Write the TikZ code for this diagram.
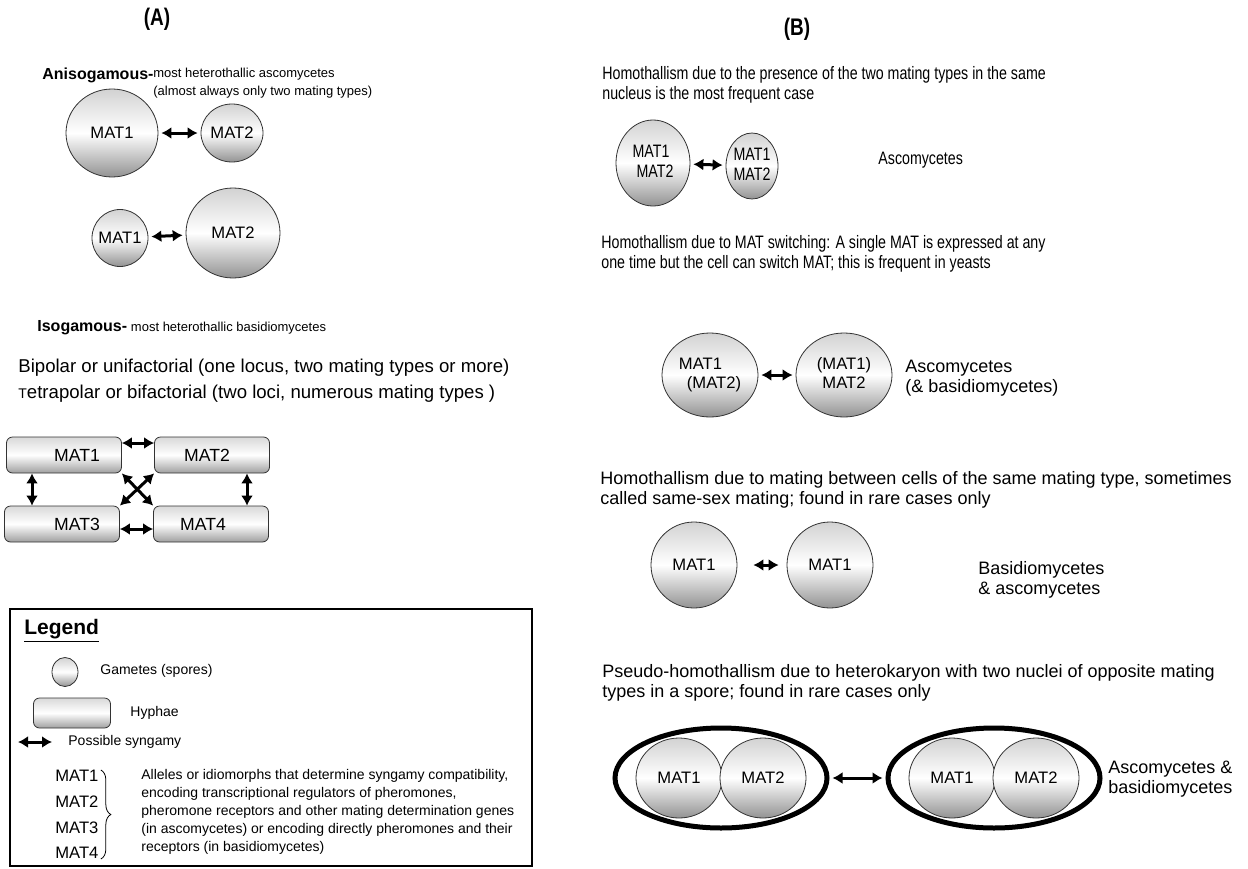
\documentclass[tikz,border=0pt]{standalone}
\usepackage{fontspec}
\usepackage{tikz}
\usetikzlibrary{arrows.meta,shapes.geometric,decorations.pathreplacing}
\setmainfont{Liberation Sans}
\newfontfamily\narrowfont{Liberation Sans}[FakeStretch=0.79]
\newcommand{\bodyfont}{\fontsize{9}{10}\selectfont}
\newcommand{\narrowtext}{\narrowfont\fontsize{9}{10}\selectfont}
\newcommand{\matfont}{\fontsize{8.3}{9.5}\selectfont}
\newcommand{\legfont}{\fontsize{7}{9}\selectfont}
\newcommand{\celltext}[2][c]{\makebox[0pt]{\begin{tabular}{@{}#1@{}}#2\end{tabular}}}
\tikzset{
  gam/.style={ellipse, draw=black!80, thin, inner sep=0pt, top color=gray!35, bottom color=gray!85, middle color=white, font=\matfont},
  hyph/.style={rectangle, rounded corners=3pt, draw=black!80, thin, inner sep=0pt, top color=gray!30, bottom color=gray!75, middle color=white, font=\fontsize{8.8}{10}\selectfont},
  spore/.style={ellipse, draw, line width=2.5pt, fill=white, inner sep=0pt},
  syn/.style={{Latex[length=5pt,width=6pt]}-{Latex[length=5pt,width=6pt]}, line width=1.5pt, shorten <=1.5pt, shorten >=1.5pt},
  txt/.style={anchor=north west, align=left, inner sep=0pt},
  headtxt/.style={anchor=base west, inner sep=0pt, font=\bfseries\fontsize{8}{10}\selectfont}
}

\begin{document}
\begin{tikzpicture}[x=0.5pt,y=-0.5pt]
  \useasboundingbox (0,0) rectangle (1248,868);
  \node[font=\narrowfont\fontsize{12}{14}\selectfont\bfseries] (lblA) at (157,19) {(A)};
  \node[font=\narrowfont\fontsize{12}{14}\selectfont\bfseries] (lblB) at (797,29) {(B)};

  \node[headtxt] (aniso) at (42,79) {Anisogamous-};
  \node[txt, font=\fontsize{6.5}{9}\selectfont] (anisot) at (153,68) {most heterothallic ascomycetes\\(almost always only two mating types)};
  \node[gam, minimum width=46pt, minimum height=44pt] (a1) at (112,133) {MAT1};
  \node[gam, minimum width=31pt, minimum height=29pt] (a2) at (232,133) {\makebox[0pt]{MAT2}};
  \node[gam, minimum width=28pt, minimum height=28.5pt] (a3) at (120,238) {\makebox[0pt]{MAT1}};
  \node[gam, minimum width=47pt, minimum height=45pt] (a4) at (233,233) {MAT2};
  \draw[syn] (a1) -- (a2);
  \draw[syn] (a3) -- (a4);

  \node[headtxt] (iso) at (37,331) {Isogamous-};
  \node[anchor=base west, inner sep=0pt, xshift=1.5pt, font=\fontsize{6.5}{9}\selectfont] (isot) at (iso.base east) {most heterothallic basidiomycetes};
  \node[txt, font=\fontsize{9.3}{13}\selectfont] (poles) at (18,359) {Bipolar or unifactorial (one locus, two mating types or more)\\{\fontsize{7}{13}\selectfont T}etrapolar or bifactorial (two loci, numerous mating types )};

  \node[hyph, minimum width=57.5pt, minimum height=18pt] (h1) at (64,455) {\hspace*{13pt}MAT1};
  \node[hyph, minimum width=57.5pt, minimum height=18pt] (h2) at (212,455) {MAT2\hspace*{5pt}};
  \node[hyph, minimum width=57.5pt, minimum height=18pt] (h3) at (62,524) {\hspace*{15pt}MAT3};
  \node[hyph, minimum width=57.5pt, minimum height=18pt] (h4) at (211,524) {MAT4\hspace*{8pt}};
  \draw[syn, shorten <=0pt, shorten >=0pt] ([yshift=6pt]h1.east) -- ([yshift=6pt]h2.west);
  \draw[syn, shorten <=0pt, shorten >=0pt] ([yshift=-2.5pt]h3.east) -- ([yshift=-2.5pt]h4.west);
  \draw[syn, shorten <=0pt, shorten >=0pt] ([xshift=-16pt]h1.south) -- ([xshift=-15pt]h3.north);
  \draw[syn, shorten <=0pt, shorten >=0pt] ([xshift=17.5pt]h2.south) -- ([xshift=18pt]h4.north);
  \draw[syn, shorten <=0pt, shorten >=0pt] (h1.south east) -- (h4.north west);
  \draw[syn, shorten <=0pt, shorten >=0pt] (h2.south west) -- (h3.north east);

  \node[draw, line width=0.8pt, minimum width=261pt, minimum height=128.5pt, inner sep=0pt] (legbox) at (271,737.5) {};
  \node[anchor=west, inner sep=0pt, font=\bfseries\fontsize{10.5}{12}\selectfont] (legtitle) at (24,631) {\underline{Legend}};
  \node[gam, minimum width=13pt, minimum height=14.5pt] (leggam) at (65,672) {};
  \node[anchor=west, inner sep=0pt, font=\legfont] (leggamt) at (100,671) {Gametes (spores)};
  \node[hyph, minimum width=38.5pt, minimum height=15pt] (leghyph) at (72,713) {};
  \node[anchor=west, inner sep=0pt, font=\legfont] (leghypht) at (130,713) {Hyphae};
  \coordinate (legs1) at (18,742);
  \coordinate (legs2) at (52,742);
  \draw[syn, shorten <=0pt, shorten >=0pt] (legs1) -- (legs2);
  \node[anchor=west, inner sep=0pt, font=\legfont] (legsynt) at (68,742) {Possible syngamy};
  \node[txt, font=\fontsize{8.3}{12.8}\selectfont] (legmat) at (55,770) {MAT1\\MAT2\\MAT3\\MAT4};
  \draw[decorate, decoration={brace, amplitude=5pt}] ([xshift=1pt]legmat.north east) -- ([xshift=1pt]legmat.south east);
  \node[txt, font=\legfont] (legdesc) at (141,769) {Alleles or idiomorphs that determine syngamy compatibility,\\encoding transcriptional regulators of pheromones,\\pheromone receptors and other mating determination genes\\(in ascomycetes) or encoding directly pheromones and their\\receptors (in basidiomycetes)};

  \node[txt, font=\narrowtext] (hom1) at (602,66) {Homothallism due to the presence of the two mating types in the same\\nucleus is the most frequent case};
  \node[gam, minimum width=37pt, minimum height=43pt, font=\narrowtext] (b1a) at (653,163) {\celltext[l]{MAT1\\\hspace{2pt}MAT2}};
  \node[gam, minimum width=26pt, minimum height=33pt, font=\narrowtext] (b1b) at (752,166) {\celltext{MAT1\\MAT2}};
  \draw[syn] (b1a) -- (b1b);
  \node[anchor=west, inner sep=0pt, font=\narrowtext] (b1t) at (878,160) {Ascomycetes};

  \node[txt, font=\narrowtext] (hom2) at (601,235) {Homothallism due to MAT switching: A single MAT is expressed at any\\one time but the cell can switch MAT; this is frequent in yeasts};
  \node[gam, minimum width=48pt, minimum height=42pt] (b2a) at (710,375) {\celltext[l]{MAT1\\\hspace{4pt}(MAT2)}};
  \node[gam, minimum width=48pt, minimum height=42pt] (b2b) at (844,375) {\celltext{(MAT1)\\MAT2}};
  \draw[syn] (b2a) -- (b2b);
  \node[txt, font=\bodyfont] (b2t) at (905,360) {Ascomycetes\\(\& basidiomycetes)};

  \node[txt, font=\bodyfont] (hom3) at (600,471) {Homothallism due to mating between cells of the same mating type, sometimes\\called same-sex mating; found in rare cases only};
  \node[gam, minimum width=43pt, minimum height=43pt] (b3a) at (694,565) {MAT1};
  \node[gam, minimum width=43pt, minimum height=43pt] (b3b) at (830,565) {MAT1};
  \draw[syn, shorten <=8pt, shorten >=4pt] (b3a) -- (b3b);
  \node[txt, font=\bodyfont] (b3t) at (978,561) {Basidiomycetes\\\& ascomycetes};

  \node[txt, font=\bodyfont] (hom4) at (602,664) {Pseudo-homothallism due to heterokaryon with two nuclei of opposite mating\\types in a spore; found in rare cases only};
  \node[spore, minimum width=106pt, minimum height=50pt] (sp1) at (721,778) {};
  \node[gam, minimum width=43pt, minimum height=40pt] (sp1a) at (679,778) {MAT1};
  \node[gam, minimum width=43pt, minimum height=40pt] (sp1b) at (763,778) {MAT2};
  \node[spore, minimum width=106pt, minimum height=50pt] (sp2) at (994,778) {};
  \node[gam, minimum width=43pt, minimum height=40pt] (sp2a) at (952,778) {MAT1};
  \node[gam, minimum width=43pt, minimum height=40pt] (sp2b) at (1036,778) {MAT2};
  \draw[syn] (sp1) -- (sp2);
  \node[txt, font=\bodyfont] (b4t) at (1108,761) {Ascomycetes \&\\basidiomycetes};
\end{tikzpicture}
\end{document}
